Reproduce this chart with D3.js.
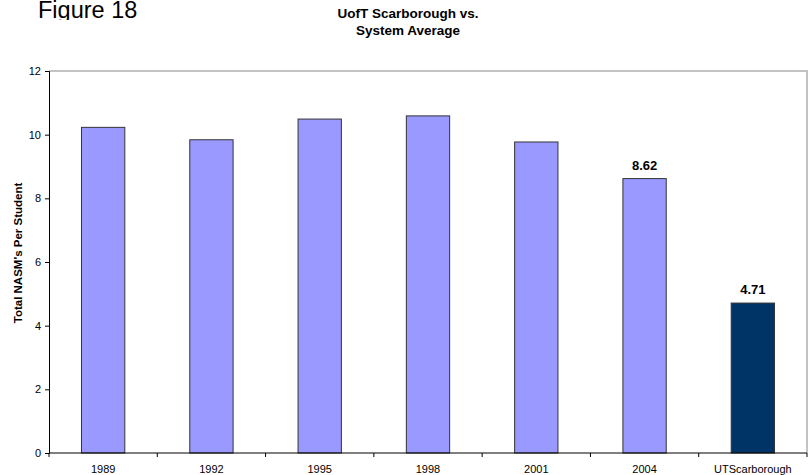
<!DOCTYPE html>
<html>
<head>
<meta charset="utf-8">
<script src="https://cdn.jsdelivr.net/npm/d3@7"></script>
<style>
  body { margin: 0; background: #fff; }
  svg text { font-family: "Liberation Sans", Arial, sans-serif; }
</style>
</head>
<body>
<div id="chart"></div>
<script>
// chart data
const categories = ['1989', '1992', '1995', '1998', '2001', '2004', 'UTScarborough'];
const values = [10.23, 9.84, 10.49, 10.59, 9.77, 8.62, 4.71];
const labels = ['', '', '', '', '', '8.62', '4.71'];
const yTicks = [0, 2, 4, 6, 8, 10, 12];

const WIDTH = 812, HEIGHT = 475;
const M = {left: 49, right: 5, top: 71, bottom: 22};

const svg = d3.select('#chart').append('svg')
    .attr('width', WIDTH)
    .attr('height', HEIGHT);

const x = d3.scaleBand()
    .domain(categories)
    .range([M.left, WIDTH - M.right])
    .paddingInner(0.6)
    .paddingOuter(0.3);

const y = d3.scaleLinear()
    .domain([0, 12])
    .range([HEIGHT - M.bottom, M.top]);

// plot area border (top and right, gray)
svg.append('path')
    .attr('d', `M${M.left},${M.top}H${WIDTH - M.right}V${HEIGHT - M.bottom}`)
    .attr('fill', 'none')
    .attr('stroke', '#b0b0b0')
    .attr('stroke-width', 1.5);

const rows = categories.map((c, i) => ({cat: c, val: values[i], label: labels[i], last: i === categories.length - 1}));

// bars
svg.selectAll('rect.bar')
    .data(rows)
    .enter()
    .append('rect')
    .attr('class', 'bar')
    .attr('x', d => x(d.cat))
    .attr('y', d => y(d.val))
    .attr('width', x.bandwidth())
    .attr('height', d => y(0) - y(d.val))
    .attr('fill', d => d.last ? '#003366' : '#9999ff')
    .attr('stroke', '#333')
    .attr('stroke-width', 1);

// value labels
svg.selectAll('text.val')
    .data(rows.filter(d => d.label))
    .enter()
    .append('text')
    .attr('class', 'val')
    .attr('x', d => x(d.cat) + x.bandwidth() / 2)
    .attr('y', d => y(d.val) - 9)
    .attr('text-anchor', 'middle')
    .style('font-size', '13px')
    .style('font-weight', 'bold')
    .text(d => d.label);

// y axis
const yAxis = d3.axisLeft(y).tickValues(yTicks).tickSize(4).tickPadding(4);
const gy = svg.append('g')
    .attr('transform', `translate(${M.left},0)`)
    .call(yAxis);
gy.select('.domain').attr('stroke', '#000');
gy.selectAll('text').style('font-size', '11px').attr('fill', '#000');

// x axis: ticks between categories
const step = x.step();
const boundaries = d3.range(categories.length + 1).map(i => M.left + i * step);
const gx = svg.append('g')
    .attr('transform', `translate(0,${y(0)})`);
gx.append('line')
    .attr('x1', M.left).attr('x2', WIDTH - M.right)
    .attr('stroke', '#000');
gx.selectAll('line.tick')
    .data(boundaries)
    .enter()
    .append('line')
    .attr('class', 'tick')
    .attr('x1', d => d).attr('x2', d => d)
    .attr('y1', 0).attr('y2', 4)
    .attr('stroke', '#000');
gx.selectAll('text')
    .data(categories)
    .enter()
    .append('text')
    .attr('x', d => x(d) + x.bandwidth() / 2)
    .attr('y', 19.5)
    .attr('text-anchor', 'middle')
    .style('font-size', '11px')
    .text(d => d);

// y axis title
svg.append('text')
    .attr('transform', 'translate(22,253) rotate(-90)')
    .attr('text-anchor', 'middle')
    .style('font-size', '11.5px')
    .style('font-weight', 'bold')
    .text("Total NASM's Per Student");

// chart title
svg.append('text')
    .attr('x', 408).attr('y', 18)
    .attr('text-anchor', 'middle')
    .style('font-size', '13.5px')
    .style('font-weight', 'bold')
    .text('UofT Scarborough vs.');
svg.append('text')
    .attr('x', 408).attr('y', 35)
    .attr('text-anchor', 'middle')
    .style('font-size', '13.5px')
    .style('font-weight', 'bold')
    .text('System Average');

// figure caption (its bottom is cropped in the original)
svg.append('clipPath')
    .attr('id', 'figClip')
    .append('rect')
    .attr('x', 0).attr('y', 0)
    .attr('width', 200).attr('height', 20);
svg.append('text')
    .attr('x', 38).attr('y', 17.5)
    .attr('clip-path', 'url(#figClip)')
    .style('font-size', '23.5px')
    .text('Figure 18');
</script>
</body>
</html>
